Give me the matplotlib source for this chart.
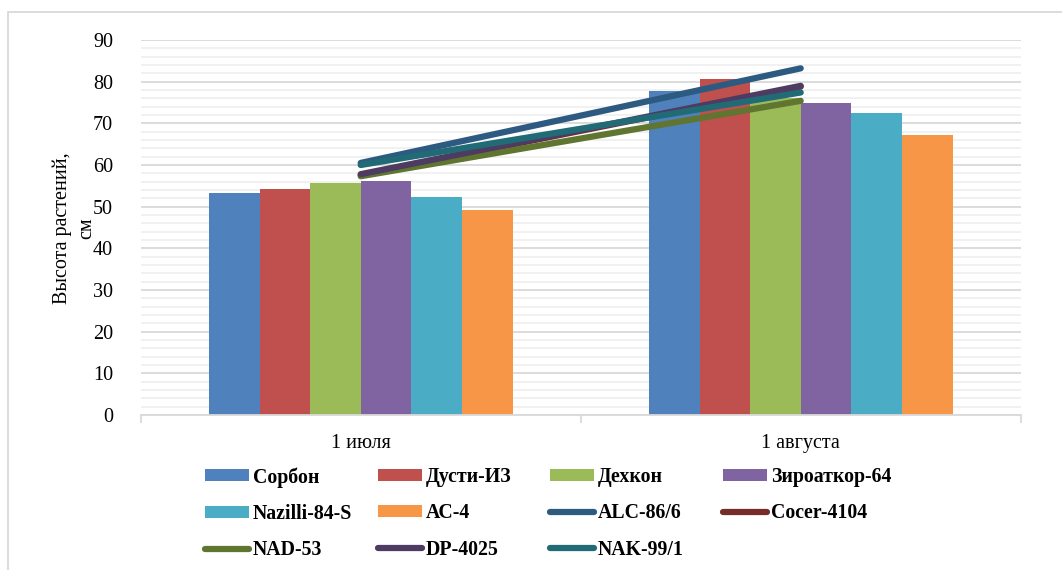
import numpy as np
import matplotlib
matplotlib.use("Agg")
import matplotlib.pyplot as plt
from matplotlib.patches import Rectangle, Patch
from matplotlib.lines import Line2D

# ---- data -------------------------------------------------------------
dates = ["1 июля", "1 августа"]

bar_names = ["Сорбон", "Дусти-ИЗ", "Дехкон", "Зироаткор-64", "Nazilli-84-S", "АС-4"]
bar_values = {
    "Сорбон":       [53.3, 77.8],
    "Дусти-ИЗ":     [54.3, 80.6],
    "Дехкон":       [55.6, 76.0],
    "Зироаткор-64": [56.1, 75.0],
    "Nazilli-84-S": [52.3, 72.5],
    "АС-4":         [49.3, 67.2],
}
bar_colors = ["#4F81BD", "#C0504D", "#9BBB59", "#8064A2", "#4BACC6", "#F79646"]

line_names = ["ALC-86/6", "Cocer-4104", "NAD-53", "DP-4025", "NAK-99/1"]
line_values = {
    "ALC-86/6":   [60.5, 83.2],
    "Cocer-4104": [57.6, 78.8],
    "NAD-53":     [57.3, 75.4],
    "DP-4025":    [57.8, 79.0],
    "NAK-99/1":   [60.0, 77.4],
}
line_colors = ["#2C5A80", "#772C2A", "#5F7530", "#4D3B62", "#216B77"]

y_ticks = list(range(0, 91, 10))

# ---- style ------------------------------------------------------------
FONT = "Liberation Serif"
FS = 14.5
plt.rcParams["font.family"] = [FONT, "DejaVu Serif"]

W, H = 1062, 570
fig = plt.figure(figsize=(W / 100, H / 100), dpi=100)
fig.patch.set_facecolor("white")

# light chart frame
fig.add_artist(Rectangle((8 / W, -0.05), 1.1, 1 - 11.5 / H + 0.05,
                         transform=fig.transFigure, fill=False,
                         edgecolor="#D9D9D9", linewidth=1.3))

left, right, bottom, top = 140.7, 1020.7, 415.0, 40.0
ax = fig.add_axes([left / W, 1 - bottom / H, (right - left) / W, (bottom - top) / H])

x = np.arange(len(dates))
bw = 0.115
n = len(bar_names)
bar_handles = []
for i, (name, col) in enumerate(zip(bar_names, bar_colors)):
    ax.bar(x + (i - (n - 1) / 2) * bw, bar_values[name], width=bw,
           color=col, edgecolor="none", zorder=2, label=name)
    bar_handles.append(Patch(facecolor=col, edgecolor="none", label=name))

line_handles = []
for name, col in zip(line_names, line_colors):
    ax.plot(x, line_values[name], color=col, linewidth=4.5,
            solid_capstyle="round", zorder=3, label=name)
    line_handles.append(Line2D([], [], color=col, linewidth=4.5,
                               solid_capstyle="round", label=name))

ax.set_xlim(-0.5, 1.5)
ax.set_ylim(0, 90)
ax.set_yticks(y_ticks)
ax.set_yticks(np.arange(0, 91, 2), minor=True)
ax.yaxis.grid(True, which="major", color="#D9D9D9", linewidth=1.3, zorder=0)
ax.yaxis.grid(True, which="minor", color="#EDEDED", linewidth=1.1, zorder=0)
ax.set_axisbelow(True)

ax.set_xticks(x)
ax.set_xticklabels(dates, fontsize=FS)
ax.set_xticks([-0.5, 0.5, 1.5], minor=True)
ax.tick_params(axis="x", which="major", length=0, pad=14)
ax.tick_params(axis="x", which="minor", length=5.5, color="#D9D9D9", width=1.3)
ax.tick_params(axis="y", which="both", length=0, pad=20, labelsize=FS)

for s in ["top", "right", "left"]:
    ax.spines[s].set_visible(False)
ax.spines["bottom"].set_color("#D9D9D9")
ax.spines["bottom"].set_linewidth(1.3)

fig.text(62 / W, 1 - 228 / H, "Высота растений,", rotation=90,
         ha="center", va="center", fontsize=FS)
fig.text(87 / W, 1 - 228 / H, "см", rotation=90,
         ha="center", va="center", fontsize=FS)

# ---- legend: four equal-width columns -------------------------------
by_name = {h.get_label(): h for h in bar_handles + line_handles}
columns = [
    ["Сорбон", "Nazilli-84-S", "NAD-53"],
    ["Дусти-ИЗ", "АС-4", "DP-4025"],
    ["Дехкон", "ALC-86/6", "NAK-99/1"],
    ["Зироаткор-64", "Cocer-4104"],
]
col_x = [205, 378, 550, 723]
for cx, names in zip(col_x, columns):
    fig.legend([by_name[nm] for nm in names], names,
               loc="upper left", bbox_to_anchor=(cx / W, 1 - 467 / H),
               frameon=False, borderpad=0, borderaxespad=0,
               handlelength=2.2, handleheight=0.55, handletextpad=0.2,
               labelspacing=0.83,
               prop={"family": FONT, "size": 14.3, "weight": "bold"})

fig.savefig("out.png", dpi=100, facecolor="white")
